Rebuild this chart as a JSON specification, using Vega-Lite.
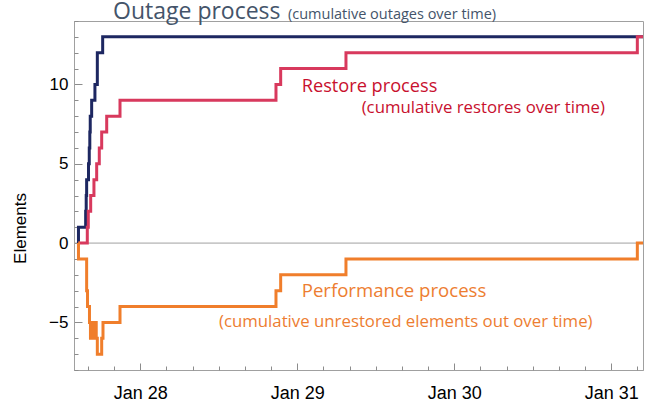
{
  "$schema": "https://vega.github.io/schema/vega-lite/v6.json",
  "width": 569,
  "height": 349,
  "autosize": {"type": "none"},
  "padding": {"left": 74, "top": 21, "right": 16, "bottom": 33},
  "background": "white",
  "config": {
    "view": {"stroke": "#a0a0a0", "strokeWidth": 1},
    "axis": {
      "grid": false,
      "domainColor": "#a0a0a0",
      "tickColor": "#8c8c8c",
      "labelFont": "Liberation Sans",
      "labelColor": "#000000",
      "titleFont": "Liberation Sans",
      "titleFontWeight": "normal",
      "titleColor": "#000000"
    }
  },
  "resolve": {"axis": {"x": "independent", "y": "independent"}},
  "datasets": {
    "steps": [
      {"series": "Outage", "t": "2024-01-27T14:32", "v": 0},
      {"series": "Outage", "t": "2024-01-27T14:33", "v": 1},
      {"series": "Outage", "t": "2024-01-27T15:39", "v": 2},
      {"series": "Outage", "t": "2024-01-27T15:44", "v": 3},
      {"series": "Outage", "t": "2024-01-27T15:48", "v": 4},
      {"series": "Outage", "t": "2024-01-27T16:05", "v": 5},
      {"series": "Outage", "t": "2024-01-27T16:12", "v": 6},
      {"series": "Outage", "t": "2024-01-27T16:17", "v": 7},
      {"series": "Outage", "t": "2024-01-27T16:21", "v": 8},
      {"series": "Outage", "t": "2024-01-27T16:34", "v": 9},
      {"series": "Outage", "t": "2024-01-27T17:04", "v": 10},
      {"series": "Outage", "t": "2024-01-27T17:26", "v": 12},
      {"series": "Outage", "t": "2024-01-27T18:15", "v": 13},
      {"series": "Outage", "t": "2024-01-31T04:52", "v": 13},
      {"series": "Restore", "t": "2024-01-27T14:32", "v": 0},
      {"series": "Restore", "t": "2024-01-27T15:54", "v": 1},
      {"series": "Restore", "t": "2024-01-27T16:03", "v": 2},
      {"series": "Restore", "t": "2024-01-27T16:25", "v": 3},
      {"series": "Restore", "t": "2024-01-27T16:55", "v": 4},
      {"series": "Restore", "t": "2024-01-27T17:20", "v": 5},
      {"series": "Restore", "t": "2024-01-27T17:44", "v": 6},
      {"series": "Restore", "t": "2024-01-27T18:06", "v": 7},
      {"series": "Restore", "t": "2024-01-27T18:52", "v": 8},
      {"series": "Restore", "t": "2024-01-27T20:54", "v": 9},
      {"series": "Restore", "t": "2024-01-28T20:45", "v": 10},
      {"series": "Restore", "t": "2024-01-28T21:28", "v": 11},
      {"series": "Restore", "t": "2024-01-29T07:27", "v": 12},
      {"series": "Restore", "t": "2024-01-31T04:00", "v": 13},
      {"series": "Restore", "t": "2024-01-31T04:52", "v": 13},
      {"series": "Performance", "t": "2024-01-27T14:32", "v": 0},
      {"series": "Performance", "t": "2024-01-27T14:33", "v": -1},
      {"series": "Performance", "t": "2024-01-27T15:48", "v": -3},
      {"series": "Performance", "t": "2024-01-27T15:56", "v": -4},
      {"series": "Performance", "t": "2024-01-27T16:14", "v": -5},
      {"series": "Performance", "t": "2024-01-27T16:23", "v": -6},
      {"series": "Performance", "t": "2024-01-27T16:32", "v": -5},
      {"series": "Performance", "t": "2024-01-27T16:40", "v": -6},
      {"series": "Performance", "t": "2024-01-27T16:48", "v": -5},
      {"series": "Performance", "t": "2024-01-27T16:55", "v": -6},
      {"series": "Performance", "t": "2024-01-27T17:09", "v": -5},
      {"series": "Performance", "t": "2024-01-27T17:16", "v": -6},
      {"series": "Performance", "t": "2024-01-27T17:26", "v": -7},
      {"series": "Performance", "t": "2024-01-27T18:06", "v": -6},
      {"series": "Performance", "t": "2024-01-27T18:18", "v": -5},
      {"series": "Performance", "t": "2024-01-27T20:54", "v": -4},
      {"series": "Performance", "t": "2024-01-28T20:45", "v": -3},
      {"series": "Performance", "t": "2024-01-28T21:28", "v": -2},
      {"series": "Performance", "t": "2024-01-29T07:27", "v": -1},
      {"series": "Performance", "t": "2024-01-31T04:00", "v": 0},
      {"series": "Performance", "t": "2024-01-31T04:52", "v": 0}
    ]
  },
  "layer": [
    {
      "data": {"values": [{"y": 0}]},
      "mark": {"type": "rule", "color": "#a0a0a0", "strokeWidth": 1},
      "encoding": {"y": {"field": "y", "type": "quantitative", "axis": null}}
    },
    {
      "data": {"name": "steps"},
      "transform": [{"filter": "datum.series === 'Outage'"}],
      "mark": {"type": "line", "interpolate": "step-after", "strokeWidth": 3, "color": "#1d2761", "clip": true},
      "encoding": {
        "x": {
          "field": "t", "type": "temporal",
          "scale": {"domain": ["2024-01-27T13:52", "2024-01-31T04:52"]},
          "axis": {
            "title": null,
            "orient": "bottom",
            "values": [
              {"year": 2024, "month": 1, "date": 28, "hours": 0},
              {"year": 2024, "month": 1, "date": 29, "hours": 0},
              {"year": 2024, "month": 1, "date": 30, "hours": 0},
              {"year": 2024, "month": 1, "date": 31, "hours": 0}
            ],
            "format": "%b %d",
            "tickSize": -7,
            "labelPadding": 21,
            "labelFontSize": 18,
            "labelFlush": false,
            "labelOverlap": false
          }
        },
        "y": {
          "field": "v", "type": "quantitative",
          "scale": {"domain": [-8, 14], "nice": false, "zero": false},
          "axis": {
            "orient": "left",
            "title": "Elements",
            "values": [-5, 0, 5, 10],
            "tickSize": -8,
            "labelPadding": 14,
            "labelFontSize": 17,
            "labelOverlap": false,
            "titleFontSize": 17,
            "titleX": -54,
            "titleY": 207,
            "titleAngle": -90,
            "titleAlign": "center",
            "titleBaseline": "middle"
          }
        }
      }
    },
    {
      "data": {"name": "steps"},
      "transform": [{"filter": "datum.series === 'Restore'"}],
      "mark": {"type": "line", "interpolate": "step-after", "strokeWidth": 3, "color": "#d8395d", "clip": true},
      "encoding": {
        "x": {
          "field": "t", "type": "temporal",
          "axis": {
            "title": null,
            "orient": "bottom",
            "domain": false,
            "labels": false,
            "tickSize": -4,
            "values": [
              {"year": 2024, "month": 1, "date": 27, "hours": 16},
              {"year": 2024, "month": 1, "date": 27, "hours": 20},
              {"year": 2024, "month": 1, "date": 28, "hours": 4},
              {"year": 2024, "month": 1, "date": 28, "hours": 8},
              {"year": 2024, "month": 1, "date": 28, "hours": 12},
              {"year": 2024, "month": 1, "date": 28, "hours": 16},
              {"year": 2024, "month": 1, "date": 28, "hours": 20},
              {"year": 2024, "month": 1, "date": 29, "hours": 4},
              {"year": 2024, "month": 1, "date": 29, "hours": 8},
              {"year": 2024, "month": 1, "date": 29, "hours": 12},
              {"year": 2024, "month": 1, "date": 29, "hours": 16},
              {"year": 2024, "month": 1, "date": 29, "hours": 20},
              {"year": 2024, "month": 1, "date": 30, "hours": 4},
              {"year": 2024, "month": 1, "date": 30, "hours": 8},
              {"year": 2024, "month": 1, "date": 30, "hours": 12},
              {"year": 2024, "month": 1, "date": 30, "hours": 16},
              {"year": 2024, "month": 1, "date": 30, "hours": 20},
              {"year": 2024, "month": 1, "date": 31, "hours": 4}
            ]
          }
        },
        "y": {
          "field": "v", "type": "quantitative",
          "axis": {
            "orient": "left",
            "title": null,
            "domain": false,
            "labels": false,
            "tickSize": -4,
            "values": [-8, -7, -6, -4, -3, -2, -1, 1, 2, 3, 4, 6, 7, 8, 9, 11, 12, 13, 14]
          }
        }
      }
    },
    {
      "data": {"name": "steps"},
      "transform": [{"filter": "datum.series === 'Performance'"}],
      "mark": {"type": "line", "interpolate": "step-after", "strokeWidth": 3, "color": "#f07e2b", "clip": true},
      "encoding": {
        "x": {"field": "t", "type": "temporal", "axis": null},
        "y": {"field": "v", "type": "quantitative", "axis": null}
      }
    },
    {
      "data": {"values": [{"t": "2024-01-27T19:50", "v": 14.11, "label": "Outage process"}]},
      "mark": {"type": "text", "font": "Open Sans", "fontSize": 23, "color": "#44546a", "align": "left", "baseline": "alphabetic"},
      "encoding": {"x": {"field": "t", "type": "temporal", "axis": null}, "y": {"field": "v", "type": "quantitative", "axis": null}, "text": {"field": "label"}}
    },
    {
      "data": {"values": [{"t": "2024-01-28T22:35", "v": 14.11, "label": "(cumulative outages over time)"}]},
      "mark": {"type": "text", "font": "Open Sans", "fontSize": 14.5, "color": "#44546a", "align": "left", "baseline": "alphabetic"},
      "encoding": {"x": {"field": "t", "type": "temporal", "axis": null}, "y": {"field": "v", "type": "quantitative", "axis": null}, "text": {"field": "label"}}
    },
    {
      "data": {"values": [{"t": "2024-01-29T00:41", "v": 9.5, "label": "Restore process"}]},
      "mark": {"type": "text", "font": "Open Sans", "fontSize": 18.2, "color": "#c8102e", "align": "left", "baseline": "alphabetic"},
      "encoding": {"x": {"field": "t", "type": "temporal", "axis": null}, "y": {"field": "v", "type": "quantitative", "axis": null}, "text": {"field": "label"}}
    },
    {
      "data": {"values": [{"t": "2024-01-29T09:51", "v": 8.23, "label": "(cumulative restores over time)"}]},
      "mark": {"type": "text", "font": "Open Sans", "fontSize": 16.8, "color": "#c8102e", "align": "left", "baseline": "alphabetic"},
      "encoding": {"x": {"field": "t", "type": "temporal", "axis": null}, "y": {"field": "v", "type": "quantitative", "axis": null}, "text": {"field": "label"}}
    },
    {
      "data": {"values": [{"t": "2024-01-29T00:41", "v": -3.4, "label": "Performance process"}]},
      "mark": {"type": "text", "font": "Open Sans", "fontSize": 18.6, "color": "#ed7d31", "align": "left", "baseline": "alphabetic"},
      "encoding": {"x": {"field": "t", "type": "temporal", "axis": null}, "y": {"field": "v", "type": "quantitative", "axis": null}, "text": {"field": "label"}}
    },
    {
      "data": {"values": [{"t": "2024-01-28T12:02", "v": -5.3, "label": "(cumulative unrestored elements out over time)"}]},
      "mark": {"type": "text", "font": "Open Sans", "fontSize": 16.8, "color": "#ed7d31", "align": "left", "baseline": "alphabetic"},
      "encoding": {"x": {"field": "t", "type": "temporal", "axis": null}, "y": {"field": "v", "type": "quantitative", "axis": null}, "text": {"field": "label"}}
    }
  ]
}
